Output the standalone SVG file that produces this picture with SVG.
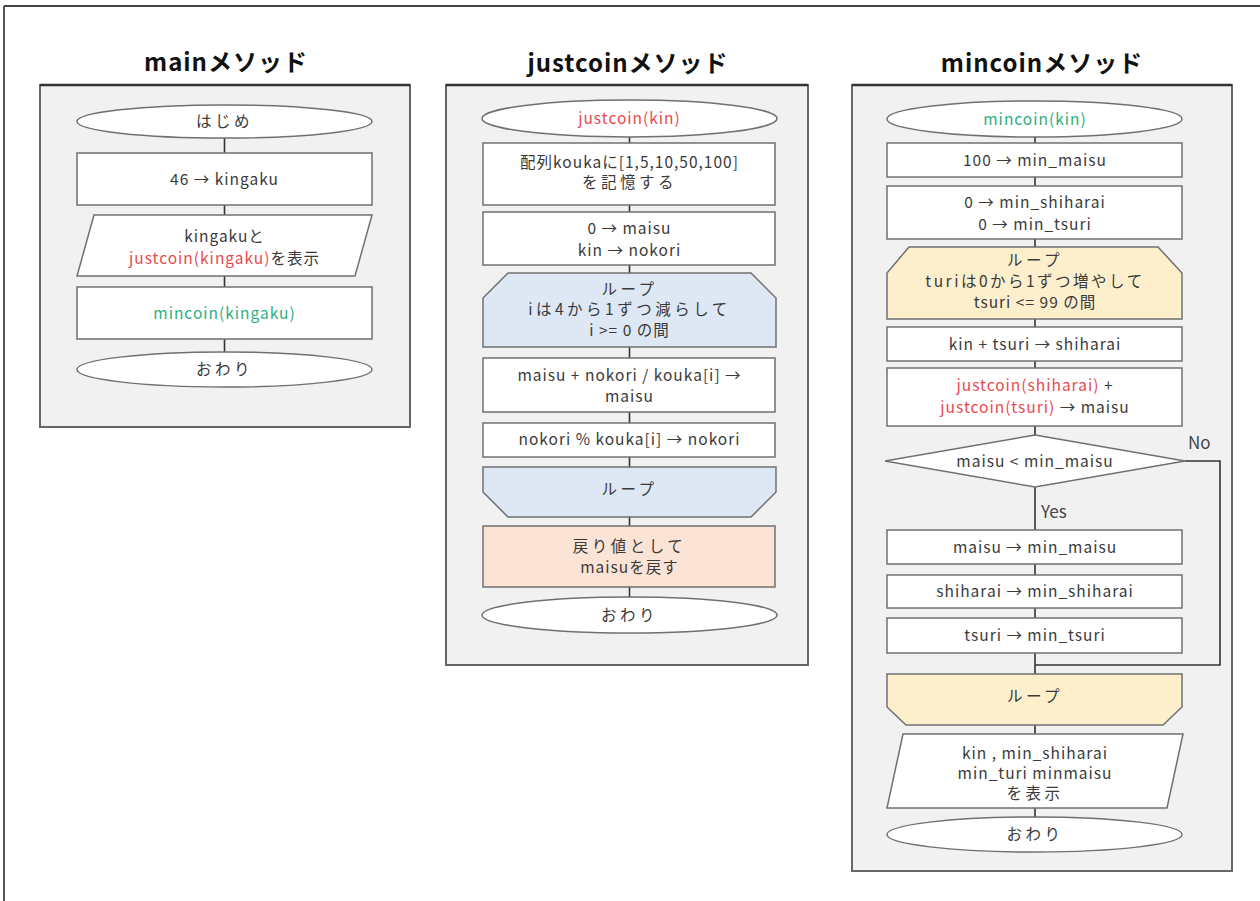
<svg xmlns="http://www.w3.org/2000/svg" width="1260" height="901" viewBox="0 0 1260 901">
<style>
.panel{fill:#f1f1f1;stroke:#666;stroke-width:2}
.ptop{stroke:#333;stroke-width:2.5}
.n{fill:#fff;stroke:#707070;stroke-width:1.5}
.lb{fill:#dde8f4;stroke:#707070;stroke-width:1.5}
.ly{fill:#fdefcc;stroke:#707070;stroke-width:1.5}
.or{fill:#fbe4d5;stroke:#707070;stroke-width:1.5}
text{font-family:"Noto Sans CJK JP","Noto Sans",sans-serif;font-size:15.5px;letter-spacing:1px;fill:#3a3a3a;text-anchor:middle}
.w{letter-spacing:3.5px}
.t{font-size:24px;font-weight:bold;fill:#111;letter-spacing:1px}
.r{fill:#e8494f}
.g{fill:#2fae80}
.c line,.c polyline{stroke:#333;stroke-width:1.6;fill:none}
.yn{font-size:17px;text-anchor:start;fill:#444;letter-spacing:0}
</style>
<rect width="1260" height="901" fill="#fff"/>
<line x1="4" y1="6" x2="1260" y2="6" stroke="#444" stroke-width="2"/>
<line x1="4" y1="6" x2="4" y2="901" stroke="#555" stroke-width="2"/>

<text class="t" x="226" y="71">mainメソッド</text>
<text class="t" x="628" y="72">justcoinメソッド</text>
<text class="t" x="1042" y="72">mincoinメソッド</text>

<g id="panel-main"><rect class="panel" x="40" y="85" width="370" height="342"/><line class="ptop" x1="40" y1="85" x2="410" y2="85"/></g>
<g id="panel-justcoin"><rect class="panel" x="446" y="85" width="362" height="580"/><line class="ptop" x1="446" y1="85" x2="808" y2="85"/></g>
<g id="panel-mincoin"><rect class="panel" x="852" y="85" width="380" height="786"/><line class="ptop" x1="852" y1="85" x2="1232" y2="85"/></g>

<g id="connectors" class="c">
<line x1="224.5" y1="138" x2="224.5" y2="153"/>
<line x1="224.5" y1="205" x2="224.5" y2="215"/>
<line x1="224.5" y1="276" x2="224.5" y2="287"/>
<line x1="224.5" y1="339" x2="224.5" y2="352"/>

<line x1="629.5" y1="137" x2="629.5" y2="143"/>
<line x1="629.5" y1="205" x2="629.5" y2="212"/>
<line x1="629.5" y1="265" x2="629.5" y2="273"/>
<line x1="629.5" y1="347" x2="629.5" y2="358"/>
<line x1="629.5" y1="412" x2="629.5" y2="423"/>
<line x1="629.5" y1="457" x2="629.5" y2="467"/>
<line x1="629.5" y1="517" x2="629.5" y2="526"/>
<line x1="629.5" y1="587" x2="629.5" y2="597"/>

<line x1="1035" y1="137" x2="1035" y2="143"/>
<line x1="1035" y1="177" x2="1035" y2="186"/>
<line x1="1035" y1="239" x2="1035" y2="247"/>
<line x1="1035" y1="319" x2="1035" y2="327"/>
<line x1="1035" y1="361" x2="1035" y2="368"/>
<line x1="1035" y1="426" x2="1035" y2="435"/>
<line x1="1035" y1="487" x2="1035" y2="530"/>
<line x1="1035" y1="564" x2="1035" y2="575"/>
<line x1="1035" y1="608" x2="1035" y2="618"/>
<line x1="1035" y1="653" x2="1035" y2="674"/>
<polyline points="1185,461 1220,461 1220,665 1035,665"/>
<line x1="1035" y1="725" x2="1035" y2="734"/>
<line x1="1035" y1="808" x2="1035" y2="817"/>
</g>

<g id="m-start"><rect class="n" x="77" y="105" width="295" height="33" rx="147" ry="16.5"/><text class="w" x="224.5" y="127">はじめ</text></g>
<g id="m-assign"><rect class="n" x="77" y="153" width="295" height="52"/><text x="224.5" y="185">46 → kingaku</text></g>
<g id="m-output"><polygon class="n" points="94,215 372,215 355,276 77,276"/><text x="224.5" y="242">kingakuと</text><text x="224.5" y="264"><tspan class="r">justcoin(kingaku)</tspan>を表示</text></g>
<g id="m-call"><rect class="n" x="77" y="287" width="295" height="52"/><text class="g" x="224.5" y="319">mincoin(kingaku)</text></g>
<g id="m-end"><rect class="n" x="77" y="352" width="295" height="35" rx="147" ry="17.5"/><text class="w" x="224.5" y="375">おわり</text></g>

<g id="j-start"><rect class="n" x="482" y="100" width="295" height="37" rx="147" ry="18.5"/><text class="r" x="629.5" y="124">justcoin(kin)</text></g>
<g id="j-array"><rect class="n" x="483" y="143" width="292" height="62"/><text x="629.5" y="168">配列koukaに[1,5,10,50,100]</text><text class="w" x="629.5" y="188">を記憶する</text></g>
<g id="j-init"><rect class="n" x="483" y="212" width="292" height="53"/><text x="629.5" y="234">0 → maisu</text><text x="629.5" y="256">kin → nokori</text></g>
<g id="j-loop"><polygon class="lb" points="508,273 751,273 776,298 776,347 483,347 483,298"/><text class="w" x="629.5" y="295">ループ</text><text class="w" x="629.5" y="315">iは4から1ずつ減らして</text><text x="629.5" y="336">i &gt;= 0 の間</text></g>
<g id="j-add"><rect class="n" x="483" y="358" width="292" height="54"/><text x="629.5" y="381">maisu + nokori / kouka[i] →</text><text x="629.5" y="402">maisu</text></g>
<g id="j-mod"><rect class="n" x="483" y="423" width="292" height="34"/><text x="629.5" y="445">nokori % kouka[i] → nokori</text></g>
<g id="j-loopend"><polygon class="lb" points="483,467 776,467 776,492 751,517 508,517 483,492"/><text class="w" x="629.5" y="495">ループ</text></g>
<g id="j-return"><rect class="or" x="483" y="526" width="292" height="61"/><text class="w" x="629.5" y="552">戻り値として</text><text x="629.5" y="573">maisuを戻す</text></g>
<g id="j-end"><rect class="n" x="482" y="597" width="295" height="36" rx="147" ry="18"/><text class="w" x="629.5" y="621">おわり</text></g>

<g id="mc-start"><rect class="n" x="887" y="101" width="295" height="36" rx="147" ry="18"/><text class="g" x="1035" y="125">mincoin(kin)</text></g>
<g id="mc-a1"><rect class="n" x="887" y="143" width="295" height="34"/><text x="1035" y="166">100 → min_maisu</text></g>
<g id="mc-a2"><rect class="n" x="887" y="186" width="295" height="53"/><text x="1035" y="208">0 → min_shiharai</text><text x="1035" y="230">0 → min_tsuri</text></g>
<g id="mc-loop"><polygon class="ly" points="909,247 1158,247 1182,273 1182,319 887,319 887,273"/><text class="w" x="1035" y="266">ループ</text><text x="1035" y="287" style="letter-spacing:2.5px">turiは0から1ずつ増やして</text><text x="1035" y="308">tsuri &lt;= 99 の間</text></g>
<g id="mc-pay"><rect class="n" x="887" y="327" width="295" height="34"/><text x="1035" y="350">kin + tsuri → shiharai</text></g>
<g id="mc-count"><rect class="n" x="887" y="368" width="295" height="58"/><text x="1035" y="391"><tspan class="r">justcoin(shiharai)</tspan> +</text><text x="1035" y="413"><tspan class="r">justcoin(tsuri)</tspan> → maisu</text></g>
<g id="mc-cond"><polygon class="n" points="1035,435 1185,461 1035,487 885,461"/><text x="1035" y="467">maisu &lt; min_maisu</text></g>
<text class="yn" x="1188" y="449">No</text>
<text class="yn" x="1041" y="518">Yes</text>
<g id="mc-s1"><rect class="n" x="887" y="530" width="295" height="34"/><text x="1035" y="553">maisu → min_maisu</text></g>
<g id="mc-s2"><rect class="n" x="887" y="575" width="295" height="33"/><text x="1035" y="597">shiharai → min_shiharai</text></g>
<g id="mc-s3"><rect class="n" x="887" y="618" width="295" height="35"/><text x="1035" y="641">tsuri → min_tsuri</text></g>
<g id="mc-loopend"><polygon class="ly" points="887,674 1182,674 1182,707 1163,725 906,725 887,707"/><text class="w" x="1035" y="702">ループ</text></g>
<g id="mc-output"><polygon class="n" points="903,734 1183,734 1167,808 887,808"/><text x="1035" y="759">kin , min_shiharai</text><text x="1035" y="779">min_turi minmaisu</text><text class="w" x="1035" y="799">を表示</text></g>
<g id="mc-end"><rect class="n" x="887" y="817" width="295" height="35" rx="147" ry="17.5"/><text class="w" x="1035" y="840">おわり</text></g>
</svg>
